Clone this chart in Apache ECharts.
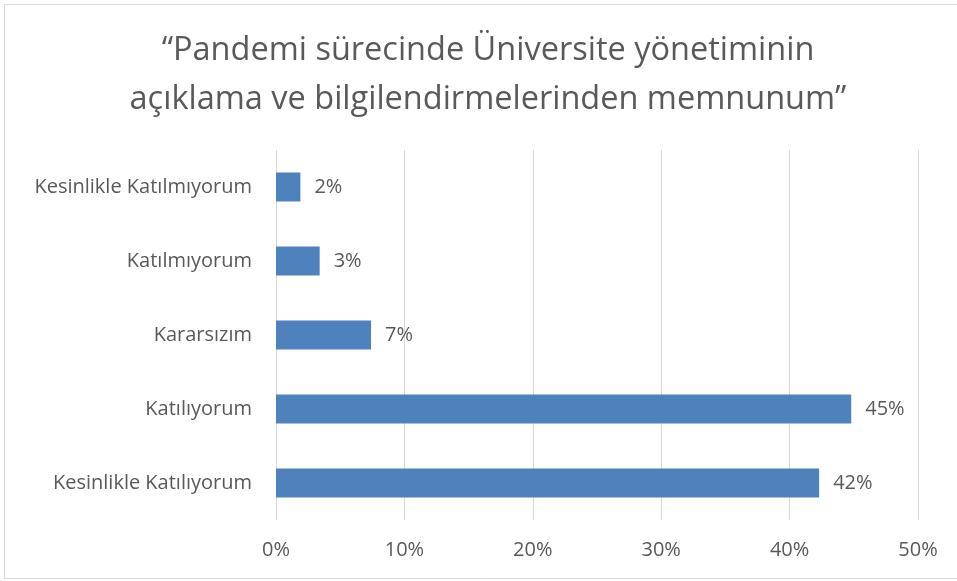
<!DOCTYPE html>
<html>
<head>
<meta charset="utf-8">
<script src="https://cdn.jsdelivr.net/npm/echarts@6/dist/echarts.min.js"></script>
<style>
  html, body { margin: 0; padding: 0; background: #fff; }
  #chart { width: 957px; height: 581px; }
</style>
</head>
<body>
<div id="chart"></div>
<script>
var titleText = '“Pandemi sürecinde Üniversite yönetiminin\naçıklama ve bilgilendirmelerinden memnunum”';
var categories = ['Kesinlikle Katılmıyorum', 'Katılmıyorum', 'Kararsızım', 'Katılıyorum', 'Kesinlikle Katılıyorum'];
var percentValues = [1.9, 3.4, 7.4, 44.8, 42.3];
var xTicks = [0, 10, 20, 30, 40, 50];

var textColor = '#595959';
var fontName = 'Open Sans';

var myChart = echarts.init(document.getElementById('chart'));

var option = {
    backgroundColor: '#fff',
    animation: false,
    title: {
        text: titleText,
        // the chart frame runs past the right edge, so the title centre is at ~488px
        left: 483,
        textAlign: 'center',
        top: 21,
        textStyle: {
            fontFamily: fontName,
            fontWeight: 'normal',
            fontSize: 32.5,
            lineHeight: 49,
            color: textColor
        }
    },
    graphic: [{
        type: 'rect',
        shape: { x: 4.5, y: 4.5, width: 960, height: 574 },
        style: { fill: 'none', stroke: '#d9d9d9', lineWidth: 1 },
        silent: true
    }],
    grid: {
        left: 276,
        right: 39,
        top: 150,
        bottom: 61
    },
    xAxis: {
        type: 'value',
        min: xTicks[0],
        max: xTicks[xTicks.length - 1],
        interval: 10,
        axisLine: { show: false },
        axisTick: { show: false },
        splitLine: { lineStyle: { color: '#d9d9d9', width: 1 } },
        axisLabel: {
            margin: 20,
            color: textColor,
            fontFamily: fontName,
            fontSize: 20,
            formatter: '{value}%'
        }
    },
    yAxis: {
        type: 'category',
        inverse: true,
        data: categories,
        axisLine: { show: false },
        axisTick: { show: false },
        axisLabel: {
            margin: 24,
            color: textColor,
            fontFamily: fontName,
            fontSize: 20
        }
    },
    series: [{
        type: 'bar',
        data: percentValues,
        barWidth: 29,
        itemStyle: { color: '#4f81bd' },
        label: {
            show: true,
            position: 'right',
            distance: 14,
            color: textColor,
            fontFamily: fontName,
            fontSize: 20,
            formatter: function (params) {
                return Math.round(params.value) + '%';
            }
        }
    }]
};

myChart.setOption(option);
</script>
</body>
</html>
